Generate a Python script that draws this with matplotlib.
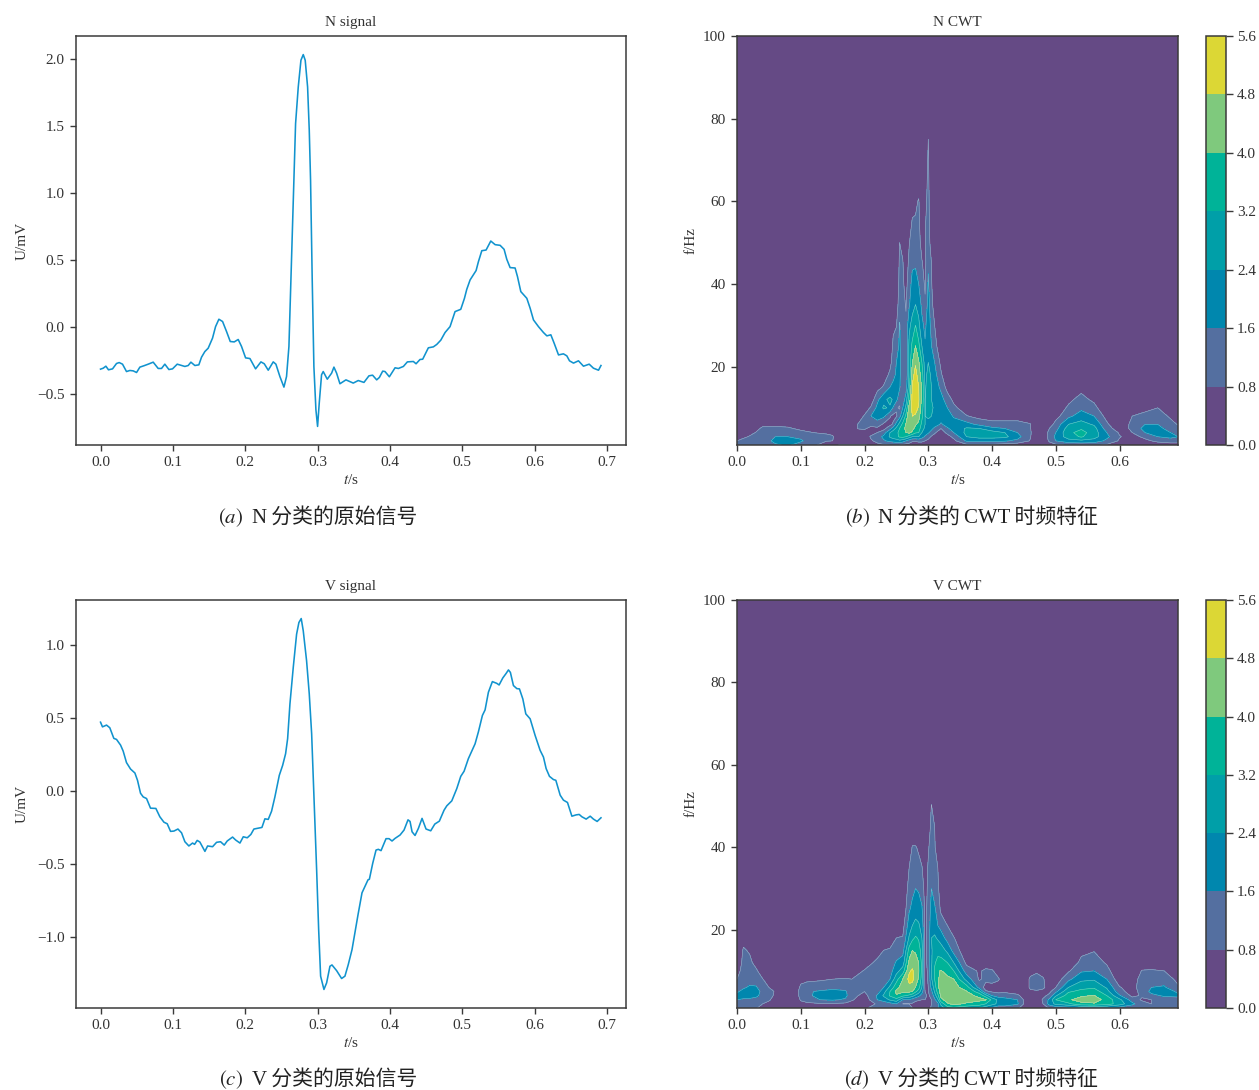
import numpy as np
import matplotlib
matplotlib.use('Agg')
import matplotlib.pyplot as plt
from matplotlib.colors import ListedColormap, BoundaryNorm

plt.rcParams['font.family'] = ['Liberation Serif', 'Noto Sans CJK SC']
plt.rcParams['mathtext.fontset'] = 'stix'

# raw signals
n_t = [0, .0037, .0074, .011, .0166, .0221, .0258, .0304, .0359, .0406, .0452, .0498, .0544, .0599, .0659, .0728,
       .0797, .0843, .0889, .0945, .0995, .106, .1166, .1212, .1249, .1304, .1359, .1396, .1442, .1488, .1548, .159,
       .1636, .1687, .1742, .1793, .1848, .1903, .1949, .2005, .2065, .2143, .2217, .2263, .2318, .2387, .2424, .2479,
       .2535, .2571, .2604, .2631, .2664, .2696, .2733, .277, .2802, .2829, .2862, .2885, .2903, .2926, .2949, .2977,
       .3, .3023, .3055, .3078, .3134, .3194, .3226, .3263, .3309, .3392, .3493, .3562, .3641, .371, .376, .3817,
       .3854, .39, .3932, .3992, .4071, .4117, .4186, .4241, .4324, .4361, .4416, .4453, .4531, .46, .4647, .4703,
       .4762, .4831, .49, .4979, .503, .5062, .5108, .5191, .5223, .527, .5329, .5394, .5454, .5523, .5578, .5615,
       .5661, .573, .5763, .5809, .5892, .5938, .5984, .6053, .6122, .6169, .6224, .627, .633, .6398, .6445, .6482,
       .6537, .6606, .6675, .6754, .6813, .6883, .6917]
n_v = [-.315, -.308, -.293, -.32, -.313, -.273, -.266, -.278, -.333, -.325, -.328, -.34, -.3, -.29, -.278, -.263,
       -.31, -.31, -.278, -.318, -.313, -.278, -.295, -.288, -.263, -.288, -.283, -.226, -.184, -.159, -.084, .002,
       .057, .04, -.035, -.109, -.112, -.094, -.146, -.231, -.236, -.313, -.261, -.275, -.323, -.261, -.278, -.37,
       -.449, -.37, -.146, .35, .97, 1.516, 1.789, 1.988, 2.03, 1.988, 1.789, 1.467, 1.094, .35, -.295, -.618,
       -.742, -.568, -.357, -.333, -.39, -.345, -.3, -.345, -.424, -.395, -.419, -.4, -.414, -.365, -.36, -.395,
       -.377, -.33, -.333, -.372, -.305, -.31, -.295, -.261, -.258, -.275, -.243, -.241, -.156, -.149, -.131, -.099,
       -.042, .002, .114, .131, .213, .28, .35, .42, .486, .568, .573, .64, .613, .608, .578, .504,
       .442, .439, .375, .263, .213, .139, .052, .002, -.042, -.067, -.059, -.122, -.209, -.201, -.216, -.253,
       -.27, -.253, -.293, -.278, -.308, -.323, -.288]

v_t = [0, .0027, .0083, .0128, .0184, .0221, .0277, .0313, .0359, .0415, .0475, .0511, .0553, .059, .0636, .0691,
       .0765, .082, .0876, .0922, .0968, .1014, .107, .112, .1166, .1221, .1272, .13, .1336, .1373, .1443, .148,
       .1549, .1604, .1659, .171, .1751, .1825, .1867, .1927, .1973, .2028, .2078, .212, .218, .2231, .2272, .2318,
       .2364, .241, .2471, .2517, .2558, .2586, .2618, .2664, .271, .2742, .2774, .2802, .2848, .2885, .2918, .295,
       .2987, .3015, .3042, .3088, .3125, .3171, .3199, .3263, .3332, .3378, .3424, .3476, .3559, .3614, .3697, .3716,
       .3762, .3808, .384, .3877, .3946, .3988, .4029, .4071, .414, .4195, .425, .4278, .4306, .4347, .4393, .4444,
       .4499, .4564, .462, .4683, .4748, .4786, .4855, .4924, .4979, .5025, .5084, .5177, .5223, .5278, .5315, .5361,
       .5416, .5477, .5509, .556, .5606, .5638, .5665, .5707, .5754, .579, .5837, .5878, .5938, .6007, .6076, .6122,
       .6159, .6205, .626, .6293, .6353, .6398, .6454, .6515, .6574, .6616, .6653, .6712, .6768, .6813, .6864, .6917]
v_v = [.473, .441, .453, .435, .362, .355, .316, .275, .196, .152, .125, .075, -.014, -.039, -.05, -.116,
       -.118, -.175, -.212, -.223, -.275, -.273, -.259, -.285, -.346, -.375, -.355, -.364, -.337, -.348, -.412, -.375,
       -.38, -.35, -.346, -.369, -.341, -.314, -.334, -.355, -.312, -.319, -.296, -.259, -.253, -.248, -.189, -.193,
       -.137, -.039, .109, .177, .257, .36, .598, .849, 1.076, 1.156, 1.183, 1.099, .894, .667, .394, -.039,
       -.539, -.949, -1.267, -1.358, -1.313, -1.199, -1.19, -1.229, -1.283, -1.267, -1.188, -1.085, -.846, -.696, -.607, -.603,
       -.494, -.403, -.398, -.407, -.325, -.325, -.341, -.323, -.3, -.266, -.196, -.207, -.278, -.303, -.255, -.186,
       -.259, -.271, -.225, -.205, -.13, -.1, -.066, .018, .102, .137, .223, .325, .407, .519, .557, .678,
       .751, .739, .728, .776, .807, .831, .814, .724, .703, .701, .632, .53, .496, .382, .28, .234,
       .155, .102, .08, .075, -.027, -.061, -.077, -.171, -.162, -.159, -.175, -.191, -.171, -.191, -.207, -.182]

# CWT magnitude, one list per time column, bottom row first, rows left out are 0
cwt_f = [1, 2, 3, 4, 5, 6, 8, 10, 12, 15, 18, 21, 25, 30, 35, 40, 45, 50, 55, 60, 65, 70, 75, 80, 100]

n_cwt_t = [0, .02, .04, .06, .08, .10, .12, .14, .15, .16, .18, .19, .20, .21, .22, .23, .24, .245, .25, .255, .26, .265,
           .27, .275, .28, .285, .29, .295, .30, .305, .31, .32, .33, .34, .36, .38, .40, .42, .44, .46, .47, .48,
           .49, .50, .52, .54, .56, .58, .60, .62, .64, .66, .68, .692]
n_cwt = [
    [1.0, .8, .3, .1],
    [.9, 1.0, .9, .5, .2],
    [.9, 1.2, 1.3, 1.2, .95, .6, .1],
    [1.5, 1.8, 1.6, 1.3, .95, .65, .1],
    [1.7, 1.9, 1.6, 1.3, .9, .6, .1],
    [1.3, 1.7, 1.45, 1.0, .65, .3],
    [1.0, 1.2, 1.1, .8, .4, .1],
    [.3, .85, 1.0, .7, .3],
    [.2, .8, .9, .6, .2],
    [.85, .3, .2],
    [.9, .3, .3, .3, .4, .2],
    [.9, .3, .3, .4, .85, .85, .3, .1],
    [.9, .3, .3, .5, .9, 1.1, .9, .3, .1],
    [.6, .7, .9, .5, .6, 1.0, 1.6, .9, .3],
    [.6, 1.0, 1.2, .8, .6, 1.3, 1.9, 1.8, 1.4, .5, .1],
    [.7, 1.5, 1.8, 1.2, .55, .65, 1.8, 2.5, 2.2, .9, .3],
    [.8, 1.8, 2.5, 2.4, 1.3, .6, .85, 2.3, 2.6, 1.6, 1.0, .5, .1],
    [.85, 1.9, 2.8, 2.8, 2.0, .9, .6, 1.5, 2.3, 1.8, 1.4, 1.2, 1.0, .6, .2],
    [.9, 2.0, 3.0, 3.0, 2.6, 1.9, .7, .9, 1.8, 1.9, 1.7, 1.6, 1.3, .75, .3],
    [.8, 2.2, 3.3, 3.4, 3.2, 2.7, 1.3, .7, 1.1, 1.7, 1.8, 1.8, 1.7, 1.65, 1.3, 1.1, .95, .8, .2],
    [.6, 2.0, 3.4, 3.8, 3.7, 3.4, 2.4, 1.6, 1.1, .9, .9, 1.1, 1.2, 1.2, 1.0, .95, .85, .6],
    [.5, 1.6, 3.2, 4.0, 4.2, 4.1, 3.4, 2.6, 2.0, 1.2, .9, .9, .9, .9, .75, .5, .3],
    [.5, 1.2, 2.8, 4.2, 4.5, 4.7, 4.6, 4.3, 3.6, 2.9, 2.6, 2.6, 2.6, 2.2, 1.5, 1.3, 1.0, .75, .3],
    [.4, .9, 2.4, 3.8, 4.3, 4.6, 4.8, 5.0, 5.0, 4.9, 4.5, 4.0, 3.4, 2.7, 2.1, 1.8, 1.5, 1.2, .9, .4],
    [.3, .9, 2.3, 3.3, 3.7, 4.1, 4.7, 5.1, 5.3, 5.4, 5.1, 4.7, 4.0, 3.2, 2.4, 1.9, 1.5, 1.2, .9, .6, .1],
    [.3, 1.0, 2.4, 3.2, 3.5, 3.8, 4.3, 4.7, 4.9, 4.8, 4.4, 4.1, 3.4, 2.6, 2.1, 1.6, 1.3, 1.0, .95, .88, .2],
    [.3, 1.0, 1.9, 2.4, 2.8, 3.0, 3.4, 3.6, 3.8, 3.9, 3.6, 3.2, 2.4, 1.8, 1.4, 1.1, .85, .6, .3],
    [.3, .8, 1.5, 1.9, 2.2, 2.4, 2.4, 2.4, 2.4, 2.3, 2.2, 2.0, 1.7, 1.4, .9, .7, .6, .7, .7, .5, .4, .3],
    [.3, .6, 1.1, 1.7, 2.0, 2.2, 2.5, 2.5, 2.6, 2.7, 2.6, 2.4, 2.2, 2.1, 1.9, 1.7, 1.5, 1.3, 1.2, 1.1, 1.0, .9, .8, .1],
    [.3, .5, .7, 1.3, 1.8, 2.0, 2.4, 2.5, 2.4, 2.4, 2.3, 2.0, 1.6, 1.3, 1.1, .9, .8, .3],
    [.2, .3, .5, .9, 1.4, 2.0, 2.3, 2.3, 2.3, 2.1, 1.9, 1.6, 1.1, .8, .3],
    [.2, .1, .2, .4, .8, 1.5, 2.0, 2.1, 1.9, 1.4, .9, .6, .2],
    [.2, .2, .5, 1.0, 1.5, 1.9, 2.0, 1.6, 1.2, .5, .2],
    [.3, .6, 1.0, 1.6, 1.9, 2.0, 1.5, 1.0, .6, .2],
    [.6, 1.7, 2.4, 2.6, 2.5, 1.9, .85, .3],
    [.7, 1.8, 2.7, 2.9, 2.4, 1.4, .5, .2],
    [.6, 1.8, 2.7, 2.8, 1.8, 1.1, .4],
    [.4, 1.7, 2.6, 2.4, 1.6, 1.1, .4],
    [.3, 1.4, 1.9, 1.6, 1.3, 1.1, .4],
    [.1, .75, .85, .9, .85, .85, .3],
    [.1, .2, .2, .2, .1],
    [.1, .3, .4, .3],
    [.5, .9, 1.0, 1.0, .8, .4, .1],
    [.6, 1.6, 1.8, 1.6, 1.3, 1.1, .5, .2],
    [.9, 2.1, 2.8, 3.0, 2.8, 2.4, 1.4, .95, .6, .1],
    [1.0, 2.2, 3.3, 3.5, 3.1, 2.7, 2.0, 1.4, 1.1, .5],
    [.9, 2.1, 2.7, 2.8, 2.7, 2.3, 1.6, 1.1, .6, .1],
    [.7, 1.4, 1.8, 1.6, 1.2, .95, .5],
    [.4, .7, .85, .7, .3],
    [.3, .3, .5, .8, 1.0, 1.1, .8, .2],
    [.3, .6, 1.0, 1.6, 1.9, 1.6, 1.0, .6, .1],
    [.3, 1.0, 1.6, 2.0, 1.9, 1.6, 1.1, .8, .3],
    [.4, 1.2, 1.8, 1.6, 1.2, 1.0, .7, .2],
    [.4, 1.2, 1.6, 1.6, 1.0, .75, .3],
]

v_cwt_t = [0, .01, .02, .03, .04, .05, .06, .08, .09, .10, .11, .13, .15, .17, .18, .20, .22, .23, .24, .25, .26, .27,
           .275, .28, .285, .29, .295, .30, .305, .31, .315, .32, .33, .34, .36, .38, .39, .40, .41, .42, .44, .455,
           .46, .47, .48, .49, .50, .52, .54, .56, .58, .60, .62, .635, .65, .67, .692]
v_cwt = [
    [.9, 1.3, 1.6, 1.8, 1.5, 1.2, .8, .4],
    [.9, 1.1, 1.5, 1.9, 1.8, 1.5, 1.3, 1.2, 1.1, .9, .5],
    [.9, 1.0, 1.4, 2.0, 2.1, 1.7, 1.3, 1.1, 1.0, .7, .2],
    [.9, .9, 1.3, 1.8, 1.9, 1.7, 1.1, .95, .5, .1],
    [.4, .8, 1.1, 1.3, 1.4, 1.1, .85, .3],
    [.3, .6, .9, 1.0, 1.0, .8, .3],
    [.2, .3, .5, .7, .75, .5, .2],
    [.2, .1, .1, .1],
    [.2],
    [.3, .5, .9, 1.2, 1.3, 1.0, .5, .2],
    [.3, .6, 1.2, 1.4, 1.5, 1.2, .6],
    [.3, .7, 1.6, 1.9, 1.7, 1.2, .7, .3],
    [.3, .7, 1.7, 2.1, 1.9, 1.3, .8, .3],
    [.3, .6, 1.5, 1.8, 1.7, 1.3, .85, .4],
    [.4, .5, .9, 1.1, 1.15, 1.1, .8, .45],
    [.6, .3, .3, .5, .8, .9, 1.0, .85, .5, .1],
    [1.3, .9, 1.6, 1.7, 1.2, 1.0, 1.0, 1.0, .95, .5, .1],
    [1.3, 1.0, 2.0, 2.5, 2.1, 1.6, 1.2, 1.1, 1.0, .8, .3],
    [1.5, 1.3, 2.5, 3.3, 3.2, 2.6, 1.6, 1.3, 1.1, .9, .3],
    [1.4, 1.6, 2.9, 3.9, 4.2, 3.7, 2.9, 2.1, 1.7, 1.1, .8, .3],
    [1.0, .8, 1.6, 3.4, 4.2, 4.4, 4.0, 2.8, 2.0, 1.3, .85, .5, .1],
    [.9, .8, 1.5, 3.0, 4.2, 4.6, 5.0, 4.7, 4.2, 3.5, 2.5, 2.0, 1.5, 1.1, .8, .3],
    [.8, .7, 1.3, 2.7, 4.0, 4.5, 5.0, 4.9, 4.5, 4.0, 3.0, 2.4, 1.8, 1.4, 1.1, .85, .2],
    [.6, .5, 1.0, 2.2, 3.4, 4.0, 4.4, 4.5, 4.3, 3.9, 3.3, 2.6, 2.1, 1.6, 1.2, .85, .2],
    [.5, .4, .9, 1.8, 2.8, 3.5, 3.9, 4.1, 4.0, 3.6, 3.1, 2.5, 2.0, 1.5, 1.0, .7, .2],
    [.4, .4, .8, 1.3, 1.9, 2.4, 2.9, 3.0, 3.0, 2.8, 2.4, 2.1, 1.7, 1.2, .85, .4],
    [.3, .5, .8, .9, .8, .7, .6, .6, .6, .6, .6, .6, .6, .5, .4, .2],
    [.5, .8, .8, .7, .75, .8, .85, .9, 1.0, 1.1, 1.1, 1.0, 1.0, .95, .9, .7, .4],
    [.9, .8, .8, 1.0, 1.4, 1.8, 2.3, 2.4, 2.3, 2.3, 2.4, 2.2, 1.9, 1.6, 1.4, 1.2, 1.0, .85, .1],
    [1.2, 1.0, 1.4, 2.0, 2.5, 2.8, 3.2, 3.3, 3.1, 2.8, 2.5, 2.1, 1.7, 1.3, 1.0, .9, .8, .2],
    [1.5, 1.4, 2.3, 3.0, 3.5, 3.8, 3.9, 3.9, 3.5, 2.9, 2.3, 1.6, 1.3, 1.0, .8, .3],
    [2.0, 2.6, 3.8, 4.2, 4.4, 4.5, 4.3, 4.05, 3.5, 2.8, 2.0, 1.3, .6, .2],
    [2.8, 3.9, 4.3, 4.5, 4.6, 4.5, 4.2, 3.7, 3.2, 2.2, 1.3, .8, .2],
    [3.0, 4.2, 4.5, 4.5, 4.4, 4.3, 4.0, 3.2, 2.4, 1.3, .85, .3],
    [2.6, 3.9, 4.3, 4.3, 4.05, 3.6, 2.1, 1.2, .6, .2],
    [2.4, 3.6, 4.2, 3.8, 2.7, 1.3, .7, .7, .3],
    [1.9, 3.2, 4.1, 2.8, .9, .5, 1.0, .95, .4],
    [1.4, 2.7, 3.0, 1.6, .7, .5, 1.1, .9, .3],
    [1.0, 2.2, 2.2, 1.2, .6, .4, .9, .4],
    [.9, 2.3, 2.0, 1.1, .7, .3, .2],
    [.9, 1.7, 1.6, .95, .5, .2],
    [.3, .3, .3, .3, .3, .5, .5, .1],
    [.1, .2, .2, .3, .6, 1.0, 1.0, .4],
    [.1, .2, .3, .5, .7, 1.05, 1.05, .7, .2],
    [.2, .8, .9, .6, .5, 1.0, .95, .3],
    [.9, 1.9, 1.8, 1.0, .6, .3],
    [1.0, 2.6, 3.2, 2.3, 1.4, .8, .3],
    [1.2, 3.0, 3.9, 3.6, 3.1, 2.4, 1.4, .7, .2],
    [1.4, 3.8, 4.3, 3.9, 3.4, 3.0, 2.2, 1.5, 1.0, .6, .1],
    [1.5, 3.9, 4.4, 4.05, 3.6, 3.1, 2.3, 1.6, 1.2, .75, .1],
    [1.4, 3.6, 3.7, 3.2, 2.7, 2.3, 1.6, 1.1, .7, .2],
    [1.2, 2.8, 2.6, 1.7, 1.1, .85, .3],
    [1.0, 1.8, 1.2, .6, .4, .5, .4],
    [1.5, 1.1, .7, .9, 1.1, 1.2, 1.1, .85, .3],
    [1.3, .8, .8, 1.4, 1.8, 1.6, 1.2, .9, .3],
    [1.3, 1.0, 1.2, 1.7, 1.9, 1.7, 1.2, .8, .3],
    [.9, 1.2, 1.4, 1.7, 1.5, .9, .6, .2],
]

levels = [0, .8, 1.6, 2.4, 3.2, 4.0, 4.8, 5.6]
level_colors = ['#654A85', '#546FA0', '#0087AE', '#009FA8', '#00B398', '#7FC97D', '#DCD735']
line_color = '#1193CE'
dark = '#3A3A3A'
W, H = 1259., 1090.


def table(cols):
    z = np.zeros((len(cwt_f), len(cols)))
    for j, c in enumerate(cols):
        z[:len(c), j] = c
    return z


def box(x0, y0, x1, y1):
    return [x0 / W, 1 - y1 / H, (x1 - x0) / W, (y1 - y0) / H]


def style(ax):
    for s in ax.spines.values():
        s.set_color(dark)
        s.set_linewidth(1.1)
    ax.tick_params(direction='out', length=4, width=1, colors=dark, labelsize=11, labelcolor='#333333', pad=4)


def signal(pos, t, v, title):
    ax = fig.add_axes(box(*pos))
    ax.plot(t, v, color=line_color, lw=1.15)
    ax.set_xticks(np.arange(0, .71, .1))
    ax.set_title(title, fontsize=11, color='#333333', pad=7)
    ax.set_xlabel('$t$/s', fontsize=11, color='#333333', labelpad=3)
    ax.set_ylabel('U/mV', fontsize=11, color='#333333', labelpad=6)
    style(ax)
    return ax


def scalogram(pos, cpos, t, cols, title):
    ax = fig.add_axes(box(*pos))
    cax = fig.add_axes(box(*cpos))
    cmap = ListedColormap(level_colors)
    norm = BoundaryNorm(levels, cmap.N)
    z = table(cols)
    cf = ax.contourf(t, cwt_f, z, levels=levels, cmap=cmap, norm=norm)
    ax.contour(t, cwt_f, z, levels=levels[1:], colors='white', linewidths=.4, alpha=.45)
    ax.set_xlim(0, .6917)
    ax.set_ylim(1, 100)
    ax.set_xticks(np.arange(0, .61, .1))
    ax.set_yticks([20, 40, 60, 80, 100])
    ax.set_title(title, fontsize=11, color='#333333', pad=7)
    ax.set_xlabel('$t$/s', fontsize=11, color='#333333', labelpad=3)
    ax.set_ylabel('f/Hz', fontsize=11, color='#333333', labelpad=4)
    style(ax)
    cb = fig.colorbar(cf, cax=cax, ticks=levels)
    cb.ax.set_yticklabels(['%.1f' % l for l in levels])
    cb.outline.set_edgecolor(dark)
    cb.outline.set_linewidth(1.1)
    cb.ax.tick_params(direction='out', length=5, width=1, colors=dark, labelsize=11, labelcolor='#333333', pad=3)


def caption(x_tag, x_text, y, tag, text):
    fig.text(x_tag / W, 1 - y / H, tag, fontsize=15, color='#222222', ha='left', va='center')
    fig.text(x_text / W, 1 - y / H, text, fontsize=15, color='#222222', ha='left', va='center')


fig = plt.figure(figsize=(12.59, 10.9), dpi=100)

signal((75.5, 36, 626, 445), n_t, n_v, 'N signal')
signal((75.5, 600, 626, 1008), v_t, v_v, 'V signal')
scalogram((737, 36, 1178, 445), (1206, 36, 1226, 445), n_cwt_t, n_cwt, 'N CWT')
scalogram((737, 600, 1178, 1008), (1206, 600, 1226, 1008), v_cwt_t, v_cwt, 'V CWT')

caption(218, 252, 518, '$(a)$', 'N\u2009分类的原始信号')
caption(845, 878, 518, '$(b)$', 'N\u2009分类的\u2009CWT\u2009时频特征')
caption(219, 252, 1080, '$(c)$', 'V\u2009分类的原始信号')
caption(844, 878, 1080, '$(d)$', 'V\u2009分类的\u2009CWT\u2009时频特征')

plt.savefig('out.png', dpi=100)
